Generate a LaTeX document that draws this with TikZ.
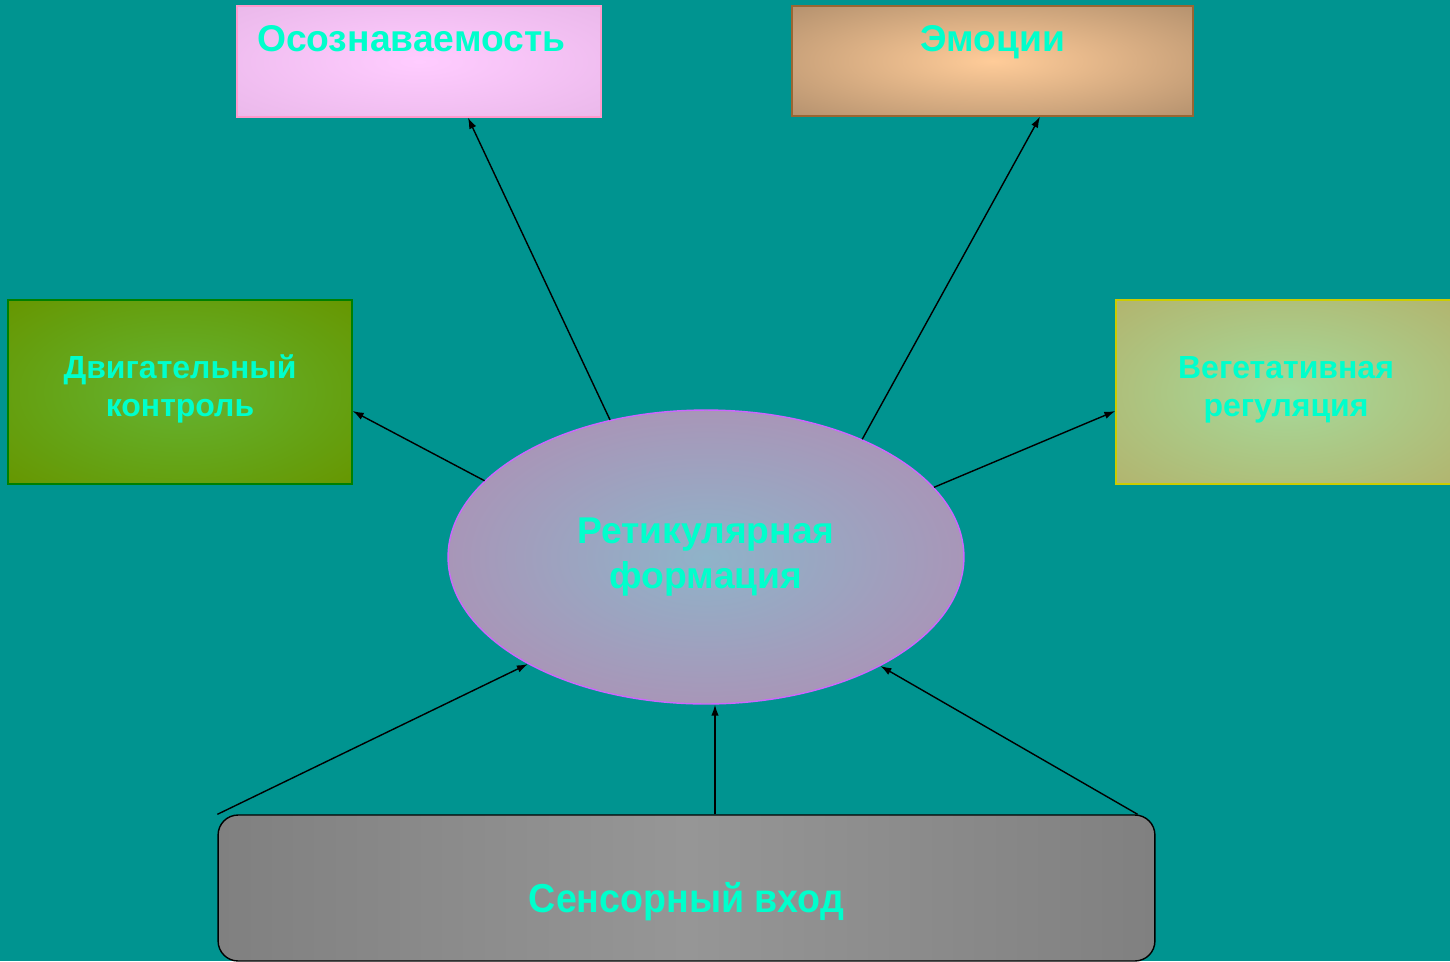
\documentclass[tikz,border=0pt]{standalone}
\usepackage{fontspec}
\setmainfont{Liberation Sans}
\usetikzlibrary{arrows.meta, shapes.geometric}
\definecolor{bgteal}{HTML}{009490}
\definecolor{lbl}{HTML}{00FFCC}
\makeatletter
\pgfdeclareradialshading[tikz@radial@inner,tikz@radial@outer]{soft}{\pgfpoint{0bp}{0bp}}%
  {color(0bp)=(tikz@radial@inner); color(36bp)=(tikz@radial@outer); color(50bp)=(tikz@radial@outer)}
\makeatother

\begin{document}
\begin{tikzpicture}[x=0.02cm, y=-0.02cm,
  box/.style={draw, line width=0.8pt, inner sep=0pt, align=center, text=lbl,
              font=\bfseries\fontsize{18.2}{21.5}\selectfont},
  big/.style={font=\bfseries\fontsize{21.2}{25.5}\selectfont},
  arr/.style={-{Latex[length=2.2mm, width=1.5mm]}, line width=0.8pt}
]
  \fill[bgteal] (0,0) rectangle (1450,961);
  \useasboundingbox (0,0) rectangle (1450,961);

  \node[box, big, draw={rgb,255:red,255;green,153;blue,204}, inner color={rgb,255:red,255;green,204;blue,255},
        outer color={rgb,255:red,234;green,184;blue,234}, shading=soft,
        text width=6.48cm, align=left, inner xsep=0.4cm, text height=0.9cm, text depth=1.32cm]
        (osoz) at (419,61.5) {Осознаваемость};
  \node[box, big, draw={rgb,255:red,153;green,102;blue,51}, inner color={rgb,255:red,255;green,204;blue,153},
        outer color={rgb,255:red,180;green,145;blue,110}, shading=soft,
        text width=8.02cm, text height=0.9cm, text depth=1.3cm]
        (emo) at (992.5,61) {Эмоции};
  \node[box, draw={rgb,255:red,0;green,128;blue,0}, inner color={rgb,255:red,100;green,180;blue,50},
        outer color={rgb,255:red,102;green,150;blue,0}, shading=soft,
        minimum width=6.88cm, text height=2.32cm, text depth=1.36cm]
        (motor) at (180,392) {Двигательный\\контроль};
  \node[box, draw={rgb,255:red,204;green,204;blue,0}, inner color={rgb,255:red,166;green,218;blue,154},
        outer color={rgb,255:red,178;green,180;blue,110}, shading=soft,
        minimum width=6.8cm, text height=2.32cm, text depth=1.36cm]
        (veg) at (1286,392) {Вегетативная\\регуляция};
  \node[box, big, ellipse, draw={rgb,255:red,204;green,102;blue,255}, inner color={rgb,255:red,143;green,179;blue,201},
        outer color={rgb,255:red,168;green,150;blue,184},
        minimum width=10.32cm, minimum height=5.88cm]
        (rf) at (706,557) {Ретикулярная\\формация};
  \node[box, draw=black, rounded corners=0.4cm, font=\bfseries\fontsize{23}{27}\selectfont,
        left color={rgb,255:red,128;green,128;blue,128}, right color={rgb,255:red,128;green,128;blue,128},
        middle color={rgb,255:red,150;green,150;blue,150},
        minimum width=18.74cm, text height=1.94cm, text depth=0.98cm]
        (sn) at (686.5,888) {\scalebox{0.93}[1]{Сенсорный вход}};

  \draw[arr] (rf.125.8) -- ([xshift=0.98cm]osoz.south);
  \draw[arr] (rf.37.4)  -- ([xshift=0.95cm]emo.south);
  \draw[arr] (rf.161.7) -- ([yshift=-0.38cm]motor.east);
  \draw[arr] (rf.17)    -- ([yshift=-0.38cm]veg.west);
  \draw[arr] (sn.north west) -- (rf.211.5);
  \draw[arr] ([xshift=0.57cm]sn.north) -- ([xshift=0.57cm]sn.north |- rf.south);
  \draw[arr] ([xshift=-0.36cm]sn.north east) -- (rf.328.4);
\end{tikzpicture}
\end{document}
